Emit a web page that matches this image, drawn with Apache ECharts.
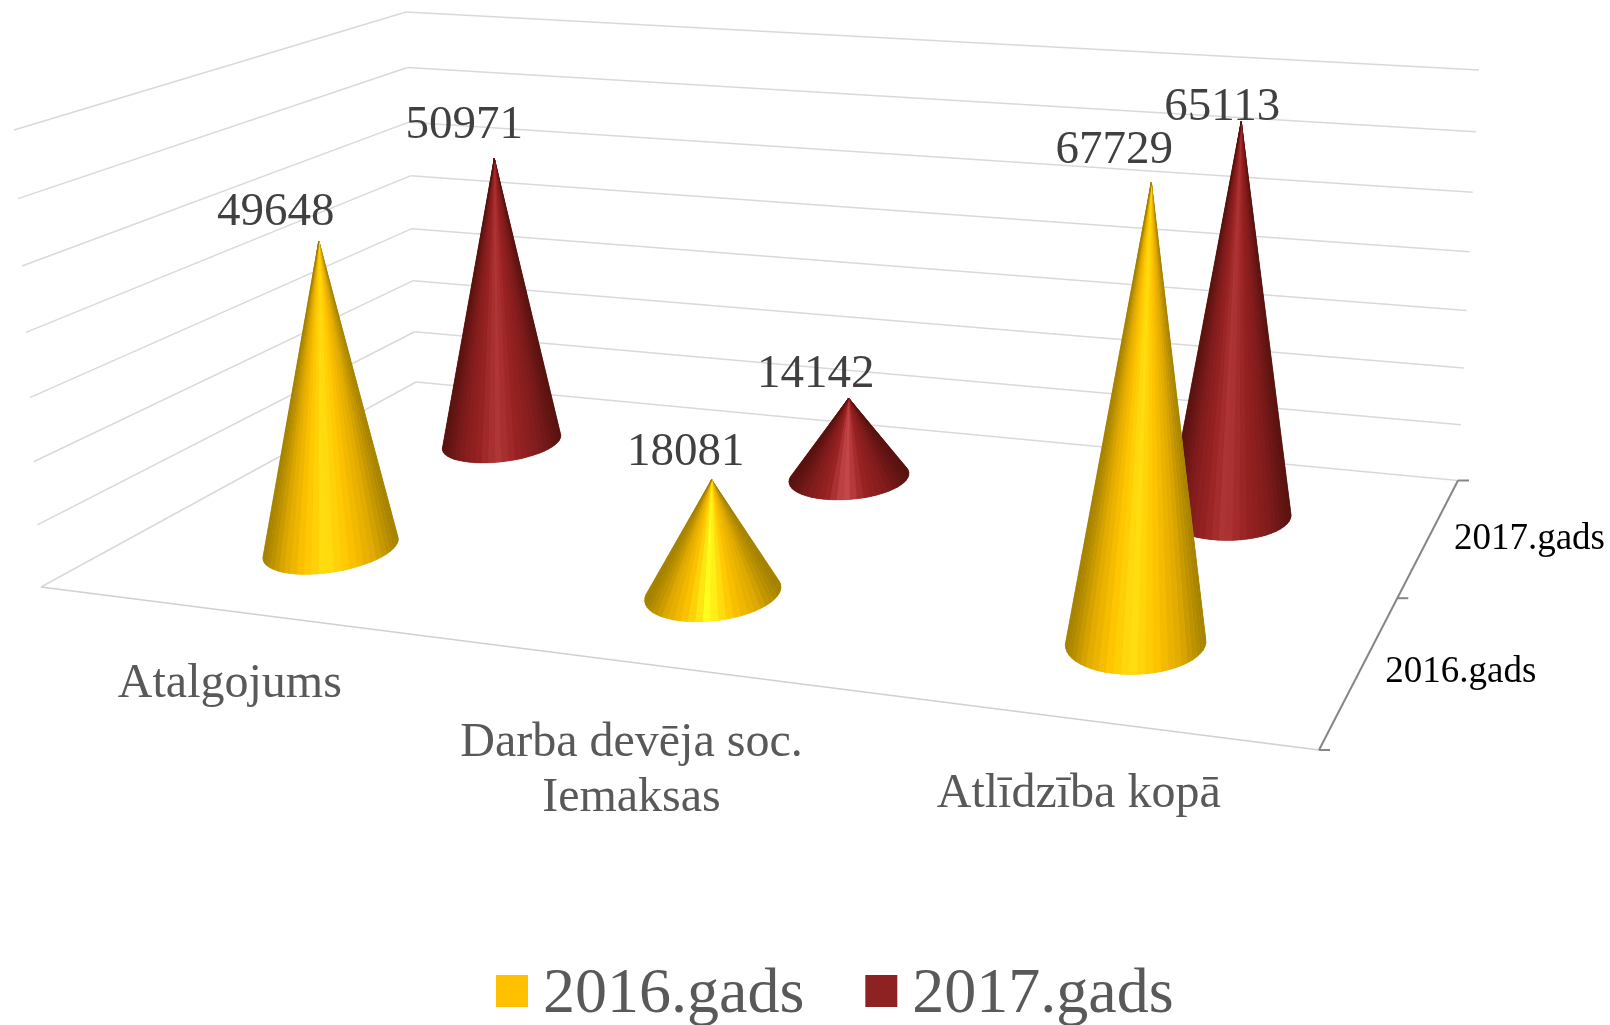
<!DOCTYPE html>
<html>
<head>
<meta charset="utf-8">
<style>html,body{margin:0;padding:0;background:#fff}#main{width:1610px;height:1025px}</style>
<script src="https://cdn.jsdelivr.net/npm/echarts@6/dist/echarts.min.js"></script>
</head>
<body>
<div id="main"></div>
<script>
var categories = ['Atalgojums', 'Darba devēja soc.\nIemaksas', 'Atlīdzība kopā'];
var seriesNames = ['2016.gads', '2017.gads'];
var values2016 = [49648, 18081, 67729];
var values2017 = [50971, 14142, 65113];
var valueTicks = [0, 10000, 20000, 30000, 40000, 50000, 60000, 70000];

// corners of the 3d box on screen: front-left, back-left, back-right, front-right
var floorQuad = [[41, 587], [416, 382], [1458, 480.5], [1319, 750]];
var roofQuad = [[14, 130], [406, 12], [1479, 70], [1355, 233]];

// data label shift from the cone tip, per series then category
var labelShift = [
    [[-43, -28], [-26, -27], [-37, -32]],
    [[-30, -33], [-33, -23], [-19, -14]]
];
var categoryDrop = [46, 54, 48];

var serif = '"Liberation Serif", "Times New Roman", serif';
var GW = 1000, GH = 700; // hidden grid size, only used to read the scales

function quadMap(q) {
    // unit square -> quad homography
    var x0 = q[0][0], y0 = q[0][1], x1 = q[3][0], y1 = q[3][1];
    var x2 = q[2][0], y2 = q[2][1], x3 = q[1][0], y3 = q[1][1];
    var dx1 = x1 - x2, dx2 = x3 - x2, sx = x0 - x1 + x2 - x3;
    var dy1 = y1 - y2, dy2 = y3 - y2, sy = y0 - y1 + y2 - y3;
    var d = dx1 * dy2 - dx2 * dy1;
    var g = (sx * dy2 - dx2 * sy) / d, h = (dx1 * sy - sx * dy1) / d;
    var a = x1 - x0 + g * x1, b = x3 - x0 + h * x3;
    var c = y1 - y0 + g * y1, e = y3 - y0 + h * y3;
    return function (u, w) {
        var t = g * u + h * w + 1;
        return [(a * u + b * w + x0) / t, (c * u + e * w + y0) / t];
    };
}
var floorAt = quadMap(floorQuad), roofAt = quadMap(roofQuad);

function project(u, w, z) {
    var f = floorAt(u, w), r = roofAt(u, w);
    var k = z / (1 + 0.06 * (1 - z)); // grid lines get wider apart towards the top
    return [f[0] + (r[0] - f[0]) * k, f[1] + (r[1] - f[1]) * k];
}

function hull(pts) {
    pts = pts.slice().sort(function (a, b) { return a[0] - b[0] || a[1] - b[1]; });
    function cross(o, a, b) { return (a[0] - o[0]) * (b[1] - o[1]) - (a[1] - o[1]) * (b[0] - o[0]); }
    var lo = [], up = [], i;
    for (i = 0; i < pts.length; i++) {
        while (lo.length > 1 && cross(lo[lo.length - 2], lo[lo.length - 1], pts[i]) <= 0) lo.pop();
        lo.push(pts[i]);
    }
    for (i = pts.length - 1; i >= 0; i--) {
        while (up.length > 1 && cross(up[up.length - 2], up[up.length - 1], pts[i]) <= 0) up.pop();
        up.push(pts[i]);
    }
    return lo.slice(0, -1).concat(up.slice(0, -1));
}

var RU = 0.05, RW = 0.105;
var shades = [
    { edge: '#a07f00', low: '#e0aa00', mid: '#ffc400', glow: '#ffe010', glowShort: '#ffff20' },
    { edge: '#55120f', low: '#801c1c', mid: '#982222', glow: '#b03638', glowShort: '#c84a4e' }
];

function coneItem(depth) {
    return function (params, api) {
        var i = api.value(0), v = api.value(1);
        var p = api.coord([i, v]);
        var u = p[0] / GW + 0.0025, z = 1 - p[1] / GH, w = (depth + 0.5) / 2;
        var pts = [], n = 56;
        for (var t = 0; t < n; t++) {
            var a = t / n * Math.PI * 2;
            pts.push(floorAt(u + RU * Math.cos(a), w + RW * Math.sin(a)));
        }
        var tip = project(u, w, z);
        pts.push(tip);
        var s = shades[depth], glow = z < 0.35 ? s.glowShort : s.glow;
        var ramp = [s.edge, s.low, s.mid, glow, s.mid, s.low, s.edge];
        var shift = labelShift[depth][i];

        // fan of slices from the tip, so the shading runs into the point
        var outline = hull(pts), start = 0, k;
        var minX = Infinity, maxX = -Infinity;
        for (k = 0; k < outline.length; k++) {
            if (outline[k] === tip) start = k;
            minX = Math.min(minX, outline[k][0]);
            maxX = Math.max(maxX, outline[k][0]);
        }
        var kids = [{
            type: 'polygon',
            shape: { points: outline },
            style: { fill: s.mid }
        }];
        for (k = 1; k < outline.length - 1; k++) {
            var b0 = outline[(start + k) % outline.length], b1 = outline[(start + k + 1) % outline.length];
            var f = ((b0[0] + b1[0]) / 2 - minX) / (maxX - minX);
            f = f < 0.46 ? f / 0.46 * 0.5 : 0.5 + (f - 0.46) / 0.54 * 0.5;
            var col = echarts.color.lerp(f, ramp);
            kids.push({
                type: 'polygon',
                shape: { points: [tip, b0, b1] },
                style: { fill: col, stroke: col, lineWidth: 0.4 }
            });
        }
        kids.push({
            type: 'text',
            style: {
                text: String(v), x: tip[0] + shift[0], y: tip[1] + shift[1],
                align: 'center', verticalAlign: 'middle',
                font: '47px ' + serif, fill: '#404040'
            }
        });
        return { type: 'group', children: kids };
    };
}

function line(a, b, color, width) {
    return {
        type: 'line',
        shape: { x1: a[0], y1: a[1], x2: b[0], y2: b[1] },
        style: { stroke: color, lineWidth: width }
    };
}

function wallItem(params, api) {
    var z = 1 - api.coord([0, api.value(0)])[1] / GH;
    var a = project(0, 0, z), b = project(0, 1, z), c = project(1, 1, z);
    return { type: 'group', children: [line(a, b, '#d9d9d9', 1.5), line(b, c, '#d9d9d9', 1.5)] };
}

function floorItem(params, api) {
    var kids = [line(project(0, 0, 0), project(1, 0, 0), '#d0d0d0', 1.5)];
    // depth axis on the right side
    kids.push(line(project(1, 0, 0), project(1, 1, 0), '#868686', 2));
    [0, 0.5, 1].forEach(function (w) {
        var p = project(1, w, 0);
        kids.push(line(p, [p[0] + 11, p[1]], '#868686', 2));
    });
    seriesNames.forEach(function (name, d) {
        var p = project(1, (d + 0.5) / 2, 0);
        kids.push({
            type: 'text',
            style: { text: name, x: p[0] + 24.5, y: p[1] + 3, align: 'left', verticalAlign: 'middle', font: '37px ' + serif, fill: '#000' }
        });
    });
    return { type: 'group', children: kids };
}

function categoryItem(params, api) {
    var i = api.value(0);
    var u = api.coord([i, 0])[0] / GW;
    var p = project(u, 0, 0);
    return {
        type: 'text',
        style: {
            text: categories[i], x: p[0] + 3, y: p[1] + categoryDrop[i],
            align: 'center', verticalAlign: 'top',
            font: '48px ' + serif, lineHeight: 55, fill: '#595959'
        }
    };
}

function cellData(vals) {
    return vals.map(function (v, i) { return [i, v]; });
}

var myChart = echarts.init(document.getElementById('main'), null, { renderer: 'canvas' });
var option = {
    animation: false,
    backgroundColor: '#fff',
    grid: { left: 0, top: 0, width: GW, height: GH, show: false },
    xAxis: { type: 'category', data: categories, show: false },
    yAxis: { type: 'value', min: 0, max: 70000, interval: 10000, show: false },
    legend: {
        data: seriesNames,
        left: 491,
        top: 958,
        icon: 'rect',
        itemWidth: 32,
        itemHeight: 32,
        itemGap: 61,
        selectedMode: false,
        formatter: '{a|{name}}',
        textStyle: {
            fontFamily: serif, fontSize: 64, color: '#595959',
            rich: { a: { fontFamily: serif, fontSize: 64, color: '#595959', padding: [8, 0, 0, 10] } }
        }
    },
    series: [
        { type: 'custom', silent: true, z: 1, data: valueTicks.map(function (t) { return [t]; }), encode: { y: 0 }, renderItem: wallItem },
        { type: 'custom', silent: true, z: 1, data: [[0]], renderItem: floorItem },
        { type: 'custom', silent: true, z: 1, data: categories.map(function (c, i) { return [i]; }), renderItem: categoryItem },
        { name: seriesNames[1], type: 'custom', silent: true, z: 2, itemStyle: { color: '#8e2222' }, data: cellData(values2017), renderItem: coneItem(1) },
        { name: seriesNames[0], type: 'custom', silent: true, z: 3, itemStyle: { color: '#ffc000' }, data: cellData(values2016), renderItem: coneItem(0) }
    ]
};
myChart.setOption(option);
</script>
</body>
</html>
